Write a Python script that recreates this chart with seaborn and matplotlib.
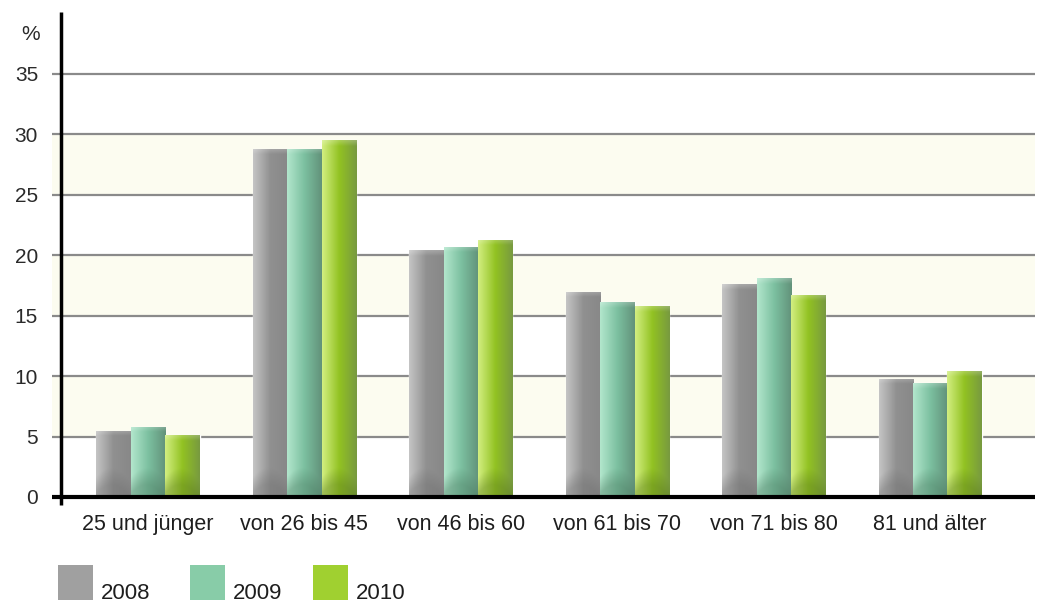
import numpy as np
import pandas as pd
import seaborn as sns
import matplotlib
matplotlib.use("Agg")
import matplotlib.pyplot as plt
from matplotlib.patches import Rectangle
from matplotlib.colors import to_rgb

categories = ["25 und jünger", "von 26 bis 45", "von 46 bis 60",
              "von 61 bis 70", "von 71 bis 80", "81 und älter"]
years = ["2008", "2009", "2010"]
v2008 = [5.5, 28.8, 20.4, 17.0, 17.6, 9.8]
v2009 = [5.8, 28.8, 20.7, 16.1, 18.1, 9.4]
v2010 = [5.1, 29.5, 21.3, 15.8, 16.7, 10.4]
y_ticks = [0, 5, 10, 15, 20, 25, 30, 35]

df = pd.DataFrame({
    "cat": categories * 3,
    "year": [y for y in years for _ in categories],
    "val": v2008 + v2009 + v2010,
})

legend_colors = ["#a0a0a0", "#88cca8", "#a0d030"]
grad_stops = [
    ["#c4c4c4", "#909090", "#888888"],
    ["#b2e6cc", "#7cc0a0", "#62927a"],
    ["#d2ee80", "#92c222", "#789a40"],
]
bottom_dark = ["#6c6c6c", "#4a7a60", "#5a7a1c"]

sns.set_theme(style="white")
plt.rcParams['font.family'] = ['Liberation Sans', 'DejaVu Sans']

W, H = 1041, 603
fig = plt.figure(figsize=(W / 100, H / 100), dpi=100)
ax = fig.add_axes([61 / W, 1 - 497 / H, (1035 - 61) / W, 485 / H])

sns.barplot(data=df, x="cat", y="val", hue="year", palette=legend_colors,
            width=0.66, gap=0, ax=ax, legend=False, saturation=1,
            errorbar=None, order=categories, hue_order=years)

xlim = (-0.556, 5.67)
ylim = (0, 40.13)

# gradient fill for bars
for i, p in enumerate(list(ax.patches)):
    h_idx = i // len(categories)
    x0 = p.get_x()
    w = p.get_width()
    hgt = p.get_height()
    if hgt <= 0:
        continue
    ncol, nrow = 60, 300
    t = np.linspace(0, 1, ncol)
    stops = np.array([to_rgb(c) for c in grad_stops[h_idx]])
    cols = np.stack([np.interp(t, [0, 0.5, 1], stops[:, k]) for k in range(3)], axis=1)
    ys = np.linspace(0, hgt, nrow)
    img = np.repeat(cols[None, :, :], nrow, axis=0)
    dark = np.array(to_rgb(bottom_dark[h_idx]))
    # soft, slightly curved darker zone at bar bottom
    xx = (t - 0.45)
    edge = 2.4 - 0.9 * (xx ** 2) * 4
    amt = 0.4 * np.clip((edge[None, :] - ys[:, None]) / 1.4, 0, 1)
    img = img * (1 - amt[:, :, None]) + dark[None, None, :] * amt[:, :, None]
    hi = 0.22 * np.clip((ys - (hgt - 0.45)) / 0.45, 0, 1)
    img = img * (1 - hi[:, None, None]) + hi[:, None, None]
    im = ax.imshow(img, extent=[x0, x0 + w, 0, hgt], origin="lower",
                   aspect="auto", interpolation="bilinear", zorder=2)
    im.set_clip_path(p)

ax.set_xlim(*xlim)
ax.set_ylim(*ylim)

# background bands
for lo in [5, 15, 25]:
    r = ax.axhspan(lo, lo + 5, xmin=-9 / 974, xmax=1, color="#fcfcf0", zorder=0.2, lw=0)
    r.set_clip_on(False)

ax.set_yticks(y_ticks)
ax.yaxis.grid(True, color="#8a8a8a", lw=1.6)
ax.set_axisbelow(True)
ax.tick_params(axis="y", which="both", direction="out", length=6.5, width=1.6,
               color="#8a8a8a", pad=10, labelsize=15, labelcolor="#2a2a2a", left=True)
ax.tick_params(axis="x", length=0, pad=12, labelsize=15.5, labelcolor="#1e1e1e")
ax.set_xlabel("")
ax.set_ylabel("")

for s in ["top", "right", "bottom", "left"]:
    ax.spines[s].set_visible(False)

# axis lines
ax.plot([-9 / 974, 1], [0, 0], transform=ax.transAxes, color="black", lw=3,
        clip_on=False, zorder=5, solid_capstyle="butt")
ax.plot([0, 0], [-8 / 485, 1], transform=ax.transAxes, color="black", lw=2.5,
        clip_on=False, zorder=5, solid_capstyle="butt")

fig.text(31 / W, 1 - 34 / H, "%", ha="center", va="center", fontsize=15, color="#2a2a2a")

# legend
leg_x = [58, 190, 313]
for c, lx, yr in zip(legend_colors, leg_x, years):
    fig.add_artist(Rectangle((lx / W, 1 - 600 / H), 35 / W, 35 / H,
                             transform=fig.transFigure, facecolor=c, edgecolor="none"))
    fig.text((lx + 43) / W, 1 - 599 / H, yr, ha="left", va="baseline",
             fontsize=16, color="#1e1e1e")

fig.savefig("out.png", dpi=100, facecolor="white")
